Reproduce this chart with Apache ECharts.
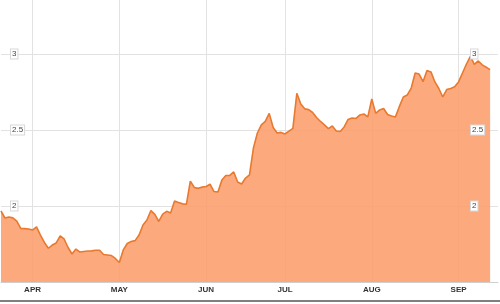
<!DOCTYPE html>
<html>
<head>
<meta charset="utf-8">
<script src="https://cdn.jsdelivr.net/npm/echarts@6/dist/echarts.min.js"></script>
<style>
html,body{margin:0;padding:0;background:#fff;}
#chart{width:500px;height:304px;}
</style>
</head>
<body>
<div id="chart"></div>
<script>
// trading-day index categories (axis slots; data occupies the first ones)
const categories = Array.from({length: 127}, (_, i) => String(i));
// month tick labels and the trading-day index where each month starts
const monthLabels = ['APR', 'MAY', 'JUN', 'JUL', 'AUG', 'SEP'];
const monthIdx = [8, 30, 52, 72, 94, 116];
// yield values
const yieldValues = [
  1.967, 1.921, 1.928, 1.922, 1.901, 1.853, 1.851, 1.849, 1.842, 1.862,
  1.809, 1.760, 1.722, 1.743, 1.757, 1.803, 1.783, 1.727, 1.684, 1.717,
  1.697, 1.701, 1.704, 1.705, 1.709, 1.709, 1.681, 1.678, 1.674, 1.655,
  1.628, 1.711, 1.753, 1.766, 1.772, 1.809, 1.875, 1.908, 1.970, 1.945,
  1.898, 1.947, 1.965, 1.954, 2.033, 2.023, 2.014, 2.011, 2.164, 2.122,
  2.116, 2.124, 2.128, 2.143, 2.095, 2.092, 2.171, 2.201, 2.201, 2.224,
  2.158, 2.145, 2.184, 2.204, 2.382, 2.480, 2.534, 2.556, 2.609, 2.516,
  2.480, 2.484, 2.474, 2.493, 2.511, 2.741, 2.671, 2.639, 2.634, 2.615,
  2.582, 2.556, 2.533, 2.509, 2.526, 2.493, 2.490, 2.520, 2.569, 2.579,
  2.576, 2.599, 2.605, 2.586, 2.704, 2.609, 2.632, 2.641, 2.602, 2.592,
  2.586, 2.655, 2.717, 2.730, 2.776, 2.875, 2.868, 2.818, 2.891, 2.882,
  2.816, 2.773, 2.717, 2.766, 2.773, 2.784, 2.816, 2.875, 2.934, 2.984,
  2.931, 2.954, 2.928, 2.913, 2.897
];
const yMin = 1.5, yMax = 3.355, yStep = 0.5;

const chart = echarts.init(document.getElementById('chart'), null, {renderer: 'canvas'});
const isMonth = (idx) => monthIdx.indexOf(idx) >= 0;
const labelBox = {
  inside: true,
  color: '#444',
  fontSize: 8,
  fontFamily: 'Liberation Sans, Arial, sans-serif',
  backgroundColor: '#fff',
  borderColor: '#d8d8d8',
  borderWidth: 1,
  padding: [1, 1, 0, 1],
  showMinLabel: false,
  showMaxLabel: false,
  formatter: (v) => (Math.abs(v / yStep - Math.round(v / yStep)) < 1e-6 ? String(v) : '')
};
chart.setOption({
  animation: false,
  backgroundColor: '#fff',
  grid: {left: 1, right: 2, top: 0, bottom: 22, containLabel: false},
  xAxis: {
    type: 'category',
    data: categories,
    boundaryGap: false,
    axisLine: {show: true, lineStyle: {color: '#cfcfcf', width: 1}},
    axisTick: {show: false},
    axisLabel: {
      interval: (idx) => isMonth(idx),
      formatter: (v, idx) => {
        const k = monthIdx.indexOf(idx);
        return k >= 0 ? monthLabels[k] : '';
      },
      margin: 4,
      color: '#333',
      fontSize: 8,
      fontWeight: 'bold',
      fontFamily: 'Liberation Sans, Arial, sans-serif'
    },
    splitLine: {
      show: true,
      interval: (idx) => isMonth(idx),
      lineStyle: {color: '#e2e2e2', width: 1}
    }
  },
  yAxis: [
    {
      type: 'value',
      position: 'left',
      min: yMin, max: yMax, interval: yStep,
      axisLine: {show: false},
      axisTick: {show: false},
      axisLabel: Object.assign({}, labelBox, {margin: 10, align: 'left'}),
      splitLine: {show: true, showMaxLine: false, lineStyle: {color: '#e2e2e2', width: 1}}
    },
    {
      type: 'value',
      position: 'right',
      min: yMin, max: yMax, interval: yStep,
      z: 10,
      axisLine: {show: false},
      axisTick: {show: false},
      axisLabel: Object.assign({}, labelBox, {margin: 27, align: 'left'}),
      splitLine: {show: false}
    }
  ],
  series: [{
    type: 'line',
    data: yieldValues,
    showSymbol: false,
    smooth: false,
    lineStyle: {color: '#e8792f', width: 1.6},
    areaStyle: {color: 'rgb(252,161,111)', opacity: 0.9},
    z: 2
  }],
  graphic: [
    {type: 'line', shape: {x1: 0, y1: 301, x2: 500, y2: 301}, style: {stroke: '#555', lineWidth: 1.5}, silent: true}
  ]
});
</script>
</body>
</html>
